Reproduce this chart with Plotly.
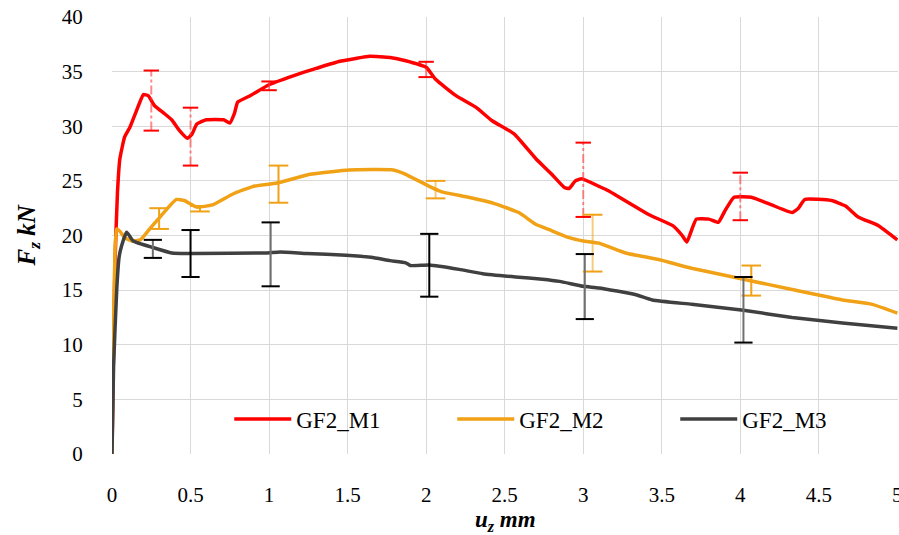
import plotly.graph_objects as go

# ---- data ----
m1_x = [0, 0.01, 0.02, 0.035, 0.05, 0.08, 0.114, 0.15, 0.2, 0.23, 0.27, 0.33, 0.38, 0.43, 0.48, 0.51,
        0.54, 0.6, 0.71, 0.75, 0.78, 0.8, 0.88, 1.0, 1.19, 1.3, 1.45, 1.55, 1.64, 1.77, 1.87, 2.0,
        2.06, 2.19, 2.32, 2.42, 2.56, 2.70, 2.80, 2.88, 2.91, 2.95, 2.99, 3.10, 3.16, 3.42, 3.57,
        3.63, 3.66, 3.69, 3.72, 3.80, 3.86, 3.90, 3.96, 4.07, 4.20, 4.33, 4.37, 4.41, 4.58, 4.67,
        4.75, 4.88, 5.0]
m1_y = [0, 10, 18, 24, 27, 29, 29.9, 31.2, 32.9, 32.8, 31.9, 31.2, 30.6, 29.6, 28.9, 29.3,
        30.2, 30.6, 30.6, 30.3, 31.2, 32.2, 32.8, 33.8, 34.8, 35.3, 35.95, 36.2, 36.4, 36.3, 36.0, 35.4,
        34.3, 32.8, 31.7, 30.5, 29.3, 27.0, 25.6, 24.4, 24.3, 25.0, 25.2, 24.5, 24.1, 21.9, 20.9,
        20.0, 19.4, 20.5, 21.5, 21.5, 21.2, 22.2, 23.5, 23.5, 22.8, 22.1, 22.5, 23.3, 23.2, 22.7,
        21.7, 20.9, 19.6]

m2_x = [0, 0.01, 0.02, 0.03, 0.05, 0.08, 0.125, 0.18, 0.24, 0.30, 0.36, 0.41, 0.46, 0.54, 0.64,
        0.77, 0.90, 1.05, 1.26, 1.51, 1.79, 1.87, 2.02, 2.10, 2.27, 2.44, 2.59, 2.70, 2.78, 2.91,
        3.0, 3.10, 3.27, 3.48, 3.69, 4.02, 4.33, 4.65, 4.84, 5.0]
m2_y = [0, 12, 19, 20.6, 20.4, 19.8, 19.5, 19.6, 20.6, 21.6, 22.6, 23.3, 23.2, 22.6, 22.8,
        23.8, 24.5, 24.8, 25.6, 26.0, 26.0, 25.6, 24.5, 24.0, 23.5, 22.9, 22.1, 21.0, 20.55, 19.8,
        19.5, 19.3, 18.4, 17.8, 17.0, 16.0, 15.05, 14.1, 13.7, 12.9]

m3_x = [0, 0.01, 0.03, 0.045, 0.06, 0.093, 0.135, 0.26, 0.38, 0.52, 0.98, 1.07, 1.24, 1.49, 1.65,
        1.77, 1.87, 1.90, 2.02, 2.21, 2.36, 2.57, 2.74, 2.85, 3.0, 3.10, 3.33, 3.44, 3.69, 4.02,
        4.33, 4.65, 5.0]
m3_y = [0, 8, 15, 18.0, 19.0, 20.3, 19.5, 18.9, 18.4, 18.35, 18.4, 18.5, 18.35, 18.2, 18.0,
        17.7, 17.5, 17.25, 17.3, 16.9, 16.5, 16.2, 16.0, 15.8, 15.35, 15.2, 14.6, 14.1, 13.7, 13.15,
        12.5, 12.0, 11.5]

m1_err_x = [0.25, 0.5, 1.0, 2.0, 3.0, 4.0]
m1_err_hi = [35.1, 31.7, 34.1, 35.9, 28.5, 25.75]
m1_err_lo = [29.6, 26.4, 33.3, 34.5, 21.7, 21.4]

m2_err_x = [0.30, 0.56, 1.06, 2.06, 3.06, 4.07]
m2_err_hi = [22.5, 22.7, 26.4, 25.0, 21.9, 17.25]
m2_err_lo = [20.6, 22.2, 23.0, 23.4, 16.7, 14.5]

m3_err_x = [0.26, 0.5, 1.01, 2.02, 3.01, 4.02]
m3_err_hi = [19.6, 20.5, 21.2, 20.15, 18.3, 16.2]
m3_err_lo = [17.95, 16.2, 15.35, 14.4, 12.35, 10.2]

series_names = ["GF2_M1", "GF2_M2", "GF2_M3"]
x_ticks = [0, 0.5, 1, 1.5, 2, 2.5, 3, 3.5, 4, 4.5, 5]
x_tick_labels = ["0", "0.5", "1", "1.5", "2", "2.5", "3", "3.5", "4", "4.5", "5"]
y_ticks = [0, 5, 10, 15, 20, 25, 30, 35, 40]
x_title = "<b><i>u</i><sub><i>z</i></sub><i> mm</i></b>"
y_title = "<b><i>F</i><sub><i>z</i></sub><i> kN</i></b>"

RED = "#ff0000"
ORANGE = "#f0a116"
DARK = "#404040"
FONT = "Liberation Serif"

fig = go.Figure()

for xs, ys, name, col in [(m1_x, m1_y, series_names[0], RED),
                          (m2_x, m2_y, series_names[1], ORANGE),
                          (m3_x, m3_y, series_names[2], DARK)]:
    fig.add_trace(go.Scatter(x=xs, y=ys, mode="lines", name=name,
                             line=dict(color=col, width=3.5, shape="spline", smoothing=0.4)))


def add_err(xs, hi, lo, stem_col, stem_dash, cap_col, cap_size, idx=None):
    sx, sy, cx, cy = [], [], [], []
    for i, (a, h, l) in enumerate(zip(xs, hi, lo)):
        if idx is not None and i not in idx:
            continue
        sx += [a, a, None]
        sy += [l, h, None]
        cx += [a, a]
        cy += [h, l]
    fig.add_trace(go.Scatter(x=sx, y=sy, mode="lines", showlegend=False, hoverinfo="skip",
                             line=dict(color=stem_col, width=2, dash=stem_dash)))
    fig.add_trace(go.Scatter(x=cx, y=cy, mode="markers", showlegend=False, hoverinfo="skip",
                             marker=dict(symbol="line-ew", size=cap_size,
                                         line=dict(color=cap_col, width=2))))


add_err(m1_err_x, m1_err_hi, m1_err_lo, "rgba(255,60,60,0.6)", "dashdot", RED, 11)
add_err(m2_err_x, m2_err_hi, m2_err_lo, ORANGE, "solid", ORANGE, 14, idx=[0, 1, 2, 5])
add_err(m2_err_x, m2_err_hi, m2_err_lo, "rgba(240,161,22,0.55)", "solid", ORANGE, 14, idx=[3, 4])
add_err(m3_err_x, m3_err_hi, m3_err_lo, "#707070", "solid", "#000000", 13, idx=[0, 2, 4, 5])
add_err(m3_err_x, m3_err_hi, m3_err_lo, "#000000", "solid", "#000000", 13, idx=[1, 3])

fig.update_layout(
    template="none",
    width=899, height=535,
    margin=dict(l=112, r=1, t=17, b=81, autoexpand=False),
    paper_bgcolor="white", plot_bgcolor="white",
    font=dict(family=FONT, color="black", size=21),
    showlegend=True,
    legend=dict(orientation="h", xref="container", yref="container",
                x=0.255, y=1 - 419 / 535, xanchor="left", yanchor="middle",
                bgcolor="rgba(0,0,0,0)", borderwidth=0,
                font=dict(family=FONT, size=23, color="black"),
                itemwidth=57, entrywidth=151, entrywidthmode="pixels",
                traceorder="normal"),
    xaxis=dict(range=[0, 5.004], tickvals=x_ticks, ticktext=x_tick_labels,
               showgrid=True, gridcolor="#d9d9d9", gridwidth=1.3,
               zeroline=False, showline=False, automargin=False,
               ticks="outside", ticklen=22, tickcolor="rgba(0,0,0,0)",
               ticklabeloverflow="allow",
               tickfont=dict(family=FONT, size=21)),
    yaxis=dict(range=[0, 40], tickvals=y_ticks,
               showgrid=True, gridcolor="#d9d9d9", gridwidth=1.3,
               zeroline=False, showline=False, automargin=False,
               ticks="outside", ticklen=24, tickcolor="rgba(0,0,0,0)",
               tickfont=dict(family=FONT, size=21)),
    annotations=[
        dict(text=x_title, xref="paper", yref="paper", x=0.5, y=-(521 - 454) / 437,
             xanchor="center", yanchor="middle", showarrow=False,
             font=dict(family=FONT, size=23, color="black")),
        dict(text=y_title, xref="paper", yref="paper", x=(28 - 112) / 786, y=0.5,
             xanchor="center", yanchor="middle", showarrow=False, textangle=-90,
             font=dict(family=FONT, size=25, color="black")),
    ],
)

fig.write_html("out.html", config={"displayModeBar": False},
               post_script="document.body.style.margin='0';document.body.style.overflow='hidden';")
